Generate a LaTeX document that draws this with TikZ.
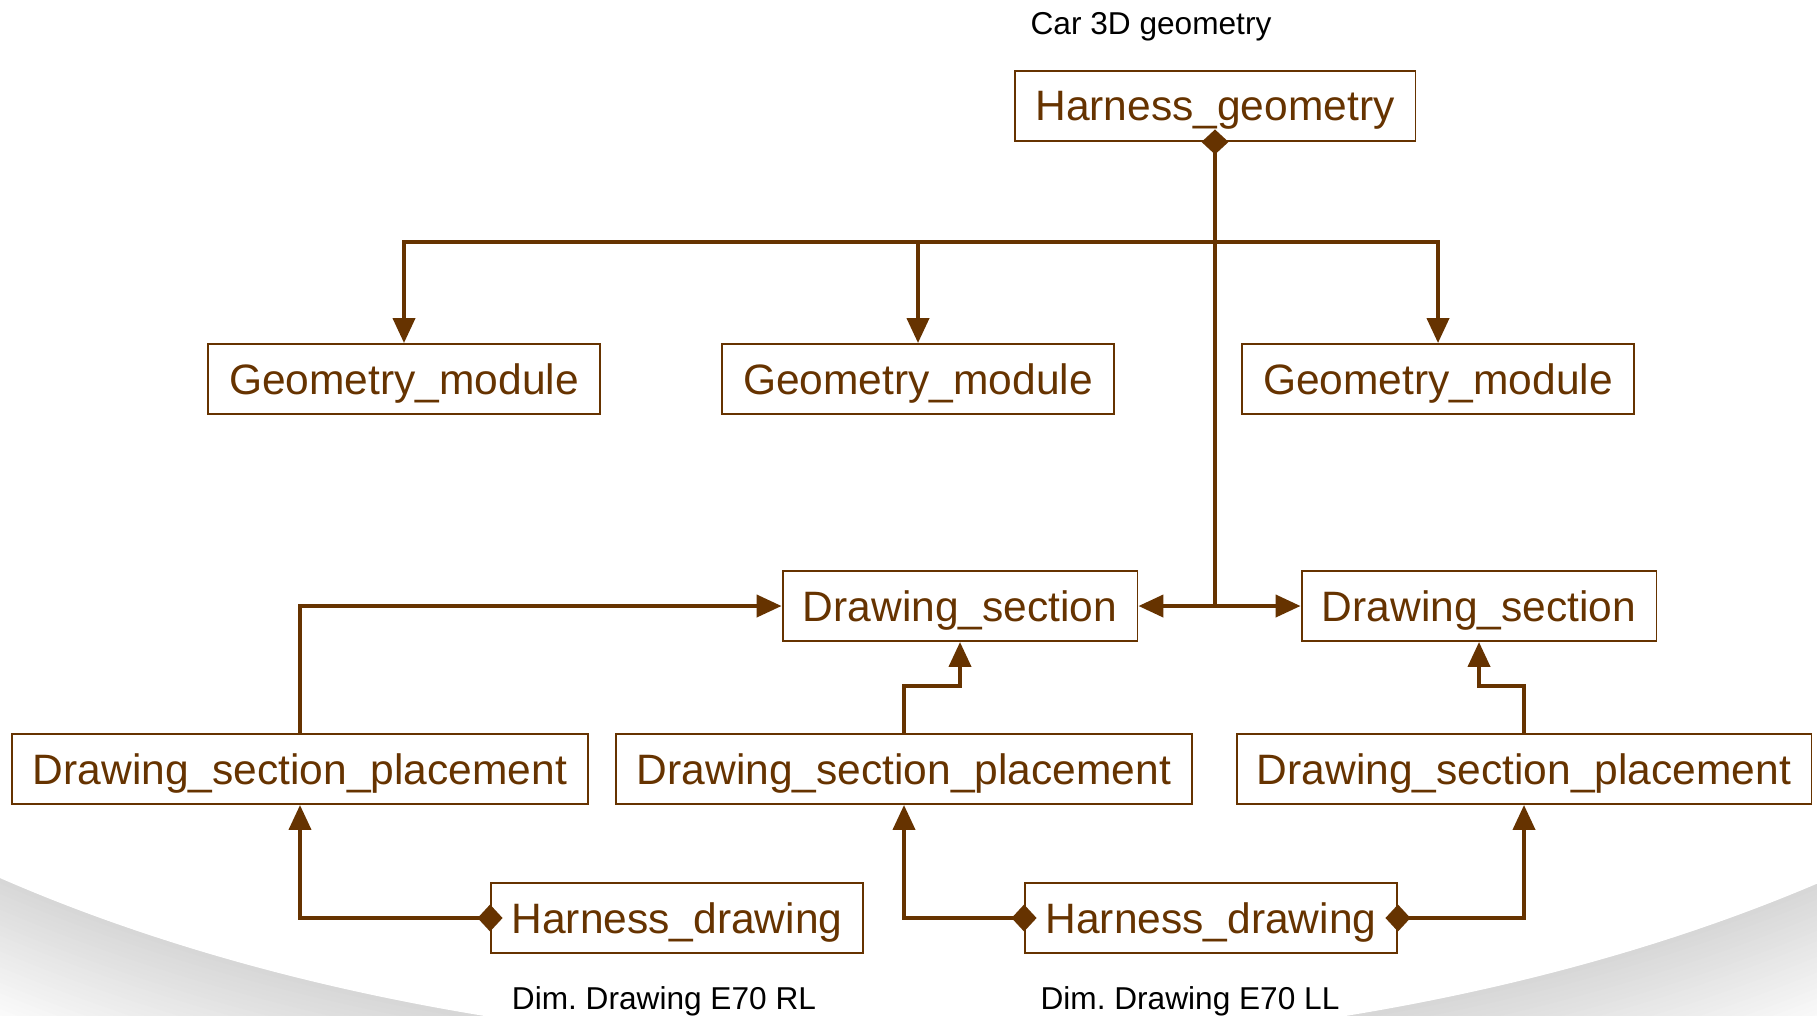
\documentclass[tikz,border=0pt]{standalone}
\usepackage{fontspec}
\setmainfont{Liberation Sans}
\usetikzlibrary{arrows.meta}
\definecolor{brn}{RGB}{102,51,0}

\begin{document}
\begin{tikzpicture}[x=0.02cm,y=-0.02cm,
    box/.style={draw=brn,line width=1.1pt,text=brn,minimum height=1.4cm,inner sep=0pt,
        text depth=0pt,font=\fontsize{24.2}{29}\selectfont},
    lbl/.style={font=\fontsize{18}{22}\selectfont},
    link/.style={draw=brn,line width=2.3pt,-{Triangle[width=0.44cm,length=0.5cm]}},
    own/.style={draw=brn,line width=2.3pt,
        {Diamond[width=0.54cm,length=0.5cm]}-{Triangle[width=0.44cm,length=0.5cm]},shorten <=-0.25cm},
    root/.style={draw=brn,line width=2.3pt,{Diamond[width=0.54cm,length=0.5cm]}-,shorten <=-0.25cm}]
\useasboundingbox (0,0) rectangle (1817,1015);

\begin{scope}
    \clip (0,0) rectangle (1817,1015);
    \fill[white] (0,0) rectangle (1817,1015);
    \foreach \k in {150,145,...,0} {
        \pgfmathsetmacro\shd{16*(1-\k/150)}
        \fill[black!\shd!white] (915,345) ellipse [x radius=1398+\k, y radius=705+\k];
    }
    \fill[white] (915,345) ellipse [x radius=1398, y radius=705];
\end{scope}

\node[lbl] (car) at (1151,27) {Car 3D geometry};
\node[box,minimum width=8.02cm] (hg) at (1215,106) {Harness\_geometry};

\node[box,minimum width=7.84cm] (gm1) at (404,379) {Geometry\_module};
\node[box,minimum width=7.84cm] (gm2) at (918,379) {Geometry\_module};
\node[box,minimum width=7.84cm] (gm3) at (1438,379) {Geometry\_module};

\node[box,minimum width=7.1cm] (ds1) at (960,606) {Drawing\_section};
\node[box,minimum width=7.1cm] (ds2) at (1479,606) {Drawing\_section};

\node[box,minimum width=11.52cm] (dsp1) at (300,769) {Drawing\_section\_placement};
\node[box,minimum width=11.52cm] (dsp2) at (904,769) {Drawing\_section\_placement};
\node[box,minimum width=11.5cm] (dsp3) at (1524,769) {Drawing\_section\_placement};

\node[box,minimum width=7.44cm] (hd1) at (677,918) {Harness\_drawing};
\node[box,minimum width=7.44cm] (hd2) at (1211,918) {Harness\_drawing};

\node[lbl] (rl) at (664,1001) {Dim.\ Drawing E70 RL};
\node[lbl] (ll) at (1190,1001) {Dim.\ Drawing E70 LL};

\coordinate (bus) at (hg.south |- 0,242);
\coordinate (jn) at (hg.south |- ds1.east);

\draw[root] (hg.south) -- (jn);
\draw[link] (bus) -| (gm1.north);
\draw[link] (bus) -| (gm2.north);
\draw[link] (bus) -| (gm3.north);
\draw[link] (jn) -- (ds1.east);
\draw[link] (jn) -- (ds2.west);

\draw[link] (dsp1.north) |- (ds1.west);
\draw[link] (dsp2.north) -- ++(0,-47) -| (ds1.south);
\draw[link] (dsp3.north) -- ++(0,-47) -| (ds2.south);

\draw[own] (hd1.west) -| (dsp1.south);
\draw[own] (hd2.west) -| (dsp2.south);
\draw[own] (hd2.east) -| (dsp3.south);

\end{tikzpicture}
\end{document}
